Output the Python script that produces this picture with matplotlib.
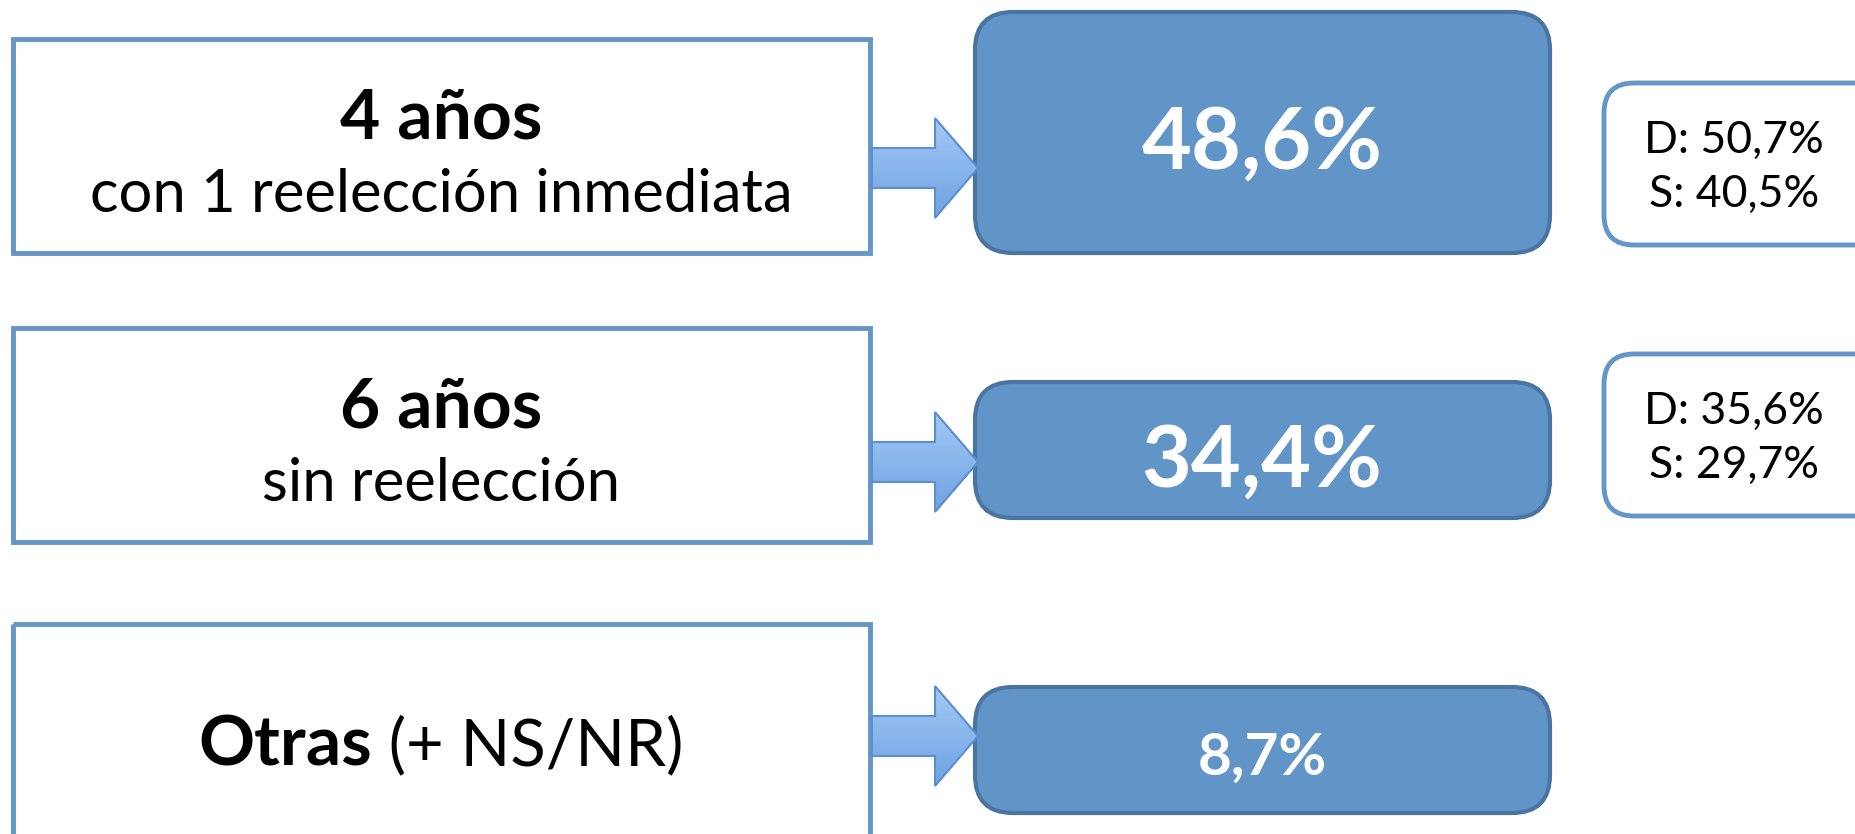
import numpy as np
import matplotlib.pyplot as plt
from matplotlib.patches import FancyBboxPatch, Rectangle, Polygon

# --- data ---
titles = ['4 años', '6 años', 'Otras']
subtitles = ['con 1 reelección inmediata', 'sin reelección', '(+ NS/NR)']
totals = [48.6, 34.4, 8.7]
d_vals = [50.7, 35.6, None]
s_vals = [40.5, 29.7, None]


def pct(v):
    return f'{v:.1f}'.replace('.', ',') + '%'


plt.rcParams['font.family'] = ['Lato', 'DejaVu Sans']

fig = plt.figure(figsize=(18.56, 8.34), dpi=100)
ax = fig.add_axes([0, 0, 1, 1])
ax.set_xlim(0, 1856)
ax.set_ylim(834, 0)
ax.axis('off')

edge_light = '#6496c8'
fill_blue = '#6195c8'
edge_dark = '#4a74a2'

# layout (pixels): left box rows, blue box rows, arrow centres
left_rows = [(39, 253), (328, 542), (624, 860)]
blue_rows = [(12, 253), (382, 518), (687, 813)]
arrow_cy = [168, 462, 736]
side_rows = [(83, 245), (354, 516)]
cx = 441

for i in range(3):
    y0, y1 = left_rows[i]
    ax.add_patch(Rectangle((13, y0), 857, y1 - y0, fill=False,
                           edgecolor=edge_light, lw=3.5, zorder=2))
    if i < 2:
        ax.text(cx, y0 + 80, titles[i], ha='center', va='center',
                fontsize=50, fontweight='bold', color='black')
        ax.text(cx, y0 + 156, subtitles[i], ha='center', va='center',
                fontsize=43, color='black')
    else:
        # bold title + regular remark, centred together
        t1 = ax.text(0, 746, titles[i], ha='left', va='center',
                     fontsize=50, fontweight='bold', color='black')
        t2 = ax.text(0, 746, ' ' + subtitles[i], ha='left', va='center',
                     fontsize=47, color='black')
        fig.canvas.draw()
        inv = ax.transData.inverted()
        b1 = t1.get_window_extent().transformed(inv)
        b2 = t2.get_window_extent().transformed(inv)
        w1, w2 = b1.x1 - b1.x0, b2.x1 - b2.x0
        start = cx - (w1 + w2) / 2
        t1.set_x(start)
        t2.set_x(start + w1)

    # blue result box
    b0, b1_ = blue_rows[i]
    ax.add_patch(FancyBboxPatch((975, b0), 575, b1_ - b0,
                                boxstyle='round,pad=0,rounding_size=38',
                                facecolor=fill_blue, edgecolor=edge_dark,
                                lw=3, zorder=3))
    fs = 62 if i < 2 else 42
    off = 12 if i < 2 else 8
    ax.text(1262, (b0 + b1_) / 2 + off, pct(totals[i]), ha='center', va='center',
            fontsize=fs, fontweight='bold', color='white', zorder=4)

    # gradient arrow
    cy = arrow_cy[i]
    pts = [(872, cy - 20), (935, cy - 20), (935, cy - 50), (978, cy),
           (935, cy + 50), (935, cy + 20), (872, cy + 20)]
    poly = Polygon(pts, closed=True, facecolor='none', edgecolor='#5b8fd0',
                   lw=1.5, zorder=5)
    ax.add_patch(poly)
    grad = np.linspace(0, 1, 100).reshape(-1, 1)
    im = ax.imshow(grad, cmap=plt.matplotlib.colors.LinearSegmentedColormap.from_list(
        'g', ['#a4c8f5', '#6ea3e2']), extent=(872, 978, cy - 50, cy + 50),
        aspect='auto', zorder=4, origin='lower')
    im.set_clip_path(poly)

# side boxes with D / S breakdown
for i, (y0, y1) in enumerate(side_rows):
    ax.add_patch(FancyBboxPatch((1604, y0), 290, y1 - y0,
                                boxstyle='round,pad=0,rounding_size=30',
                                facecolor='white', edgecolor=edge_light,
                                lw=3.5, zorder=3, clip_on=False))
    cy = (y0 + y1) / 2
    ax.text(1734, cy - 24, 'D: ' + pct(d_vals[i]), ha='center', va='center',
            fontsize=32, color='black', zorder=4)
    ax.text(1734, cy + 30, 'S: ' + pct(s_vals[i]), ha='center', va='center',
            fontsize=32, color='black', zorder=4)

ax.set_xlim(0, 1856)
ax.set_ylim(834, 0)
fig.savefig('out.png', dpi=100)
